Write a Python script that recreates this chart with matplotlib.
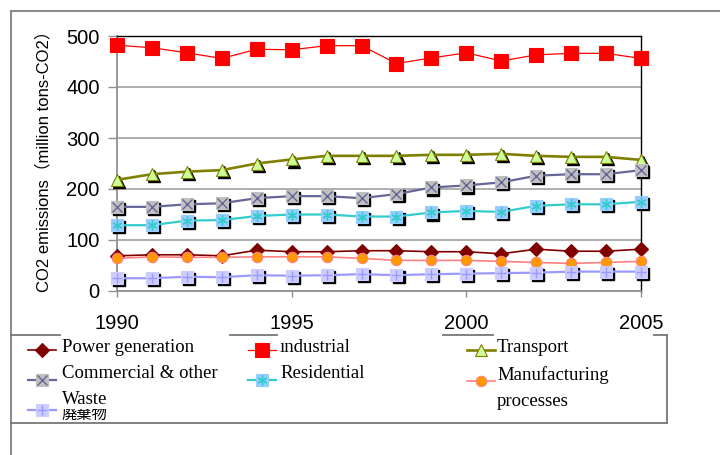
import matplotlib
matplotlib.use("Agg")
import matplotlib.pyplot as plt
from matplotlib.lines import Line2D
from matplotlib.transforms import offset_copy

# CO2 emissions by sector, million tons
years = list(range(1990, 2006))
power = [69, 71, 71, 69, 80, 77, 77, 79, 79, 77, 77, 73, 82, 78, 78, 82]
industrial = [482, 477, 467, 456, 474, 473, 481, 481, 446, 457, 467, 451, 463, 466, 466, 456]
transport = [218, 229, 234, 237, 250, 258, 265, 265, 265, 267, 267, 269, 265, 263, 263, 257]
commercial = [165, 165, 170, 172, 182, 186, 186, 182, 190, 203, 207, 213, 226, 229, 229, 237]
residential = [129, 129, 138, 139, 147, 150, 150, 146, 146, 154, 157, 155, 167, 170, 170, 175]
manufacturing = [64, 67, 66, 66, 67, 67, 67, 64, 60, 60, 60, 58, 56, 54, 56, 58]
waste = [25, 25, 28, 27, 31, 30, 31, 33, 31, 33, 34, 35, 36, 38, 38, 38]

labels = ["Power generation", "\u0131ndustrial", "Transport",
          "Commercial & other", "Residential", "Manufacturing\nprocesses", "Waste"]
waste_jp = "廃棄物"
xticks = [1990, 1995, 2000, 2005]
yticks = [0, 100, 200, 300, 400, 500]

W, H = 720, 455
fig = plt.figure(figsize=(7.2, 4.55), dpi=100)
ax = fig.add_axes([117 / W, 1 - 291 / H, (641 - 117) / W, (291 - 36) / H])

sans = ["Liberation Sans", "Noto Sans CJK JP", "DejaVu Sans"]
serif = ["Liberation Serif", "DejaVu Serif"]

shadow_tr = offset_copy(ax.transData, fig=fig, x=1.5, y=-1.5, units="points")

# style: line colour, line width, marker, size, face, edge, overlay marker, overlay colour, shadow
styles = [
    ("#800000", 1.2, "D", 7.5, "#800000", "#800000", None, None, False),
    ("#FF0000", 0.9, "s", 9.5, "#FF0000", "#FF0000", None, None, False),
    ("#808000", 1.9, "^", 8.5, "#CCFF99", "#808000", None, None, True),
    ("#666699", 1.6, "s", 8.5, "#C0C0C0", "#C0C0C0", "x", "#666699", True),
    ("#33CCCC", 1.6, "s", 8.5, "#99CCFF", "#99CCFF", (6, 2, 0), "#33CCCC", True),
    ("#FF8080", 1.2, "o", 7.5, "#FF9900", "#FF8080", None, None, False),
    ("#9999FF", 1.6, "s", 8.5, "#CCCCFF", "#CCCCFF", "+", "#9999FF", True),
]
series = [power, industrial, transport, commercial, residential, manufacturing, waste]
order = [1, 2, 3, 4, 0, 5, 6]

for i in order:
    vals = series[i]
    lc, lw, mk, ms, mfc, mec, ov, oc, shadow = styles[i]
    if shadow:
        ax.plot(years, vals, linestyle="none", marker=mk, markersize=ms,
                color="black", transform=shadow_tr, zorder=3 + i * 0.1, clip_on=False)
    ax.plot(years, vals, color=lc, lw=lw, zorder=3 + i * 0.1 + 0.01, clip_on=False)
    ax.plot(years, vals, linestyle="none", marker=mk, markersize=ms,
            markerfacecolor=mfc, markeredgecolor=mec, markeredgewidth=0.8,
            zorder=3 + i * 0.1 + 0.02, clip_on=False)
    if ov is not None:
        ax.plot(years, vals, linestyle="none", marker=ov, markersize=ms * 0.85,
                color=oc, markeredgewidth=1.0, zorder=3 + i * 0.1 + 0.03, clip_on=False)

ax.set_xlim(1990, 2005)
ax.set_ylim(0, 500)
ax.set_xticks(xticks)
ax.set_yticks(yticks)
ax.set_xticklabels([str(t) for t in xticks], family=sans, fontsize=14.5,
                   bbox=dict(facecolor="white", edgecolor="none", pad=1))
ax.set_yticklabels([str(t) for t in yticks], family=sans, fontsize=14.5)
ax.tick_params(axis="y", direction="out", length=6.5, width=1, color="#909090", pad=6)
ax.tick_params(axis="x", direction="out", length=4.5, width=1, color="#909090", pad=12)
ax.yaxis.grid(True, color="#A8A8A8", lw=1.3)
ax.set_axisbelow(True)
for s in ["left", "bottom"]:
    ax.spines[s].set_color("#909090")
    ax.spines[s].set_linewidth(1.3)
for s in ["top", "right"]:
    ax.spines[s].set_color("black")
    ax.spines[s].set_linewidth(1.0)

fig.text(43 / W, 1 - 157 / H, "CO2 emissions\uff08million tons-CO2\uff09", rotation=90,
         ha="center", va="center", family=sans, fontsize=12)


def fx(x):
    return x / W


def fy(y):
    return 1 - y / H


def hline(x0, x1, y, **kw):
    fig.add_artist(Line2D([fx(x0), fx(x1)], [fy(y), fy(y)], transform=fig.transFigure, **kw))


def vline(x, y0, y1, **kw):
    fig.add_artist(Line2D([fx(x), fx(x)], [fy(y0), fy(y1)], transform=fig.transFigure, **kw))


frame = dict(color="#8C8C8C", lw=1.5)
hline(11, 720, 11, **frame)
vline(11, 11, 455, **frame)
# legend box
hline(11, 667, 423, color="#777777", lw=1.3)
vline(667, 335, 423, color="#777777", lw=1.3)
for x0, x1 in [(11, 60), (230, 277), (443, 493), (654, 667)]:
    hline(x0, x1, 335, color="#777777", lw=1.3)

# legend entries
text_pos = [(62, 348), (280, 348), (497, 348), (62, 374), (280, 374), (497, 388), (62, 400)]
mark_pos = [(42, 350), (262, 350), (481, 350), (42, 380), (262, 380), (481, 381), (42, 410)]
for i in range(len(labels)):
    lc, lw, mk, ms, mfc, mec, ov, oc, shadow = styles[i]
    mx, my = mark_pos[i]
    fig.add_artist(Line2D([fx(mx - 14), fx(mx + 14)], [fy(my), fy(my)], color=lc, lw=lw,
                          transform=fig.transFigure))
    fig.add_artist(Line2D([fx(mx)], [fy(my)], marker=mk, markersize=ms, markerfacecolor=mfc,
                          markeredgecolor=mec, markeredgewidth=0.8, linestyle="none",
                          transform=fig.transFigure))
    if ov is not None:
        fig.add_artist(Line2D([fx(mx)], [fy(my)], marker=ov, markersize=ms * 0.85, color=oc,
                              markeredgewidth=1.0, linestyle="none", transform=fig.transFigure))
    tx, ty = text_pos[i]
    box = None
    if i == len(labels) - 1:
        # the Waste label sits over the Japanese one and hides its top half
        box = dict(facecolor="white", edgecolor="none", pad=0.5)
    fig.text(fx(tx), fy(ty), labels[i], ha="left", va="center", family=serif,
             fontsize=13.5, linespacing=1.75, zorder=5, bbox=box)

fig.text(fx(62), fy(414), waste_jp, ha="left", va="center", family=["Noto Sans CJK JP"],
         fontsize=11, zorder=4)

fig.savefig("out.png", dpi=100)
